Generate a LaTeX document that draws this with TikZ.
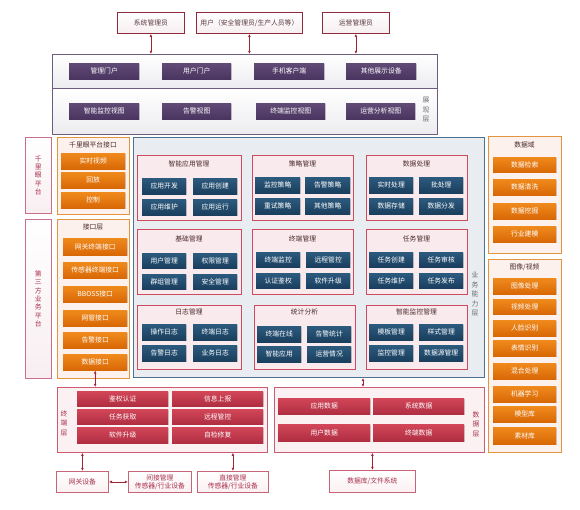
\documentclass[tikz,border=0pt]{standalone}
\usepackage{fontspec}
\setmainfont{Noto Sans CJK SC}
\usetikzlibrary{shadows,arrows.meta}
\definecolor{usrb}{HTML}{8E2A3C}
\definecolor{usrf}{HTML}{F6EEF0}
\definecolor{usrt}{HTML}{5A3A40}
\definecolor{presb}{HTML}{6E5C80}
\definecolor{presf}{HTML}{ECECF0}
\definecolor{purT}{HTML}{614B76}
\definecolor{purB}{HTML}{4A3560}
\definecolor{sideb}{HTML}{C87088}
\definecolor{sidef}{HTML}{F8EEF1}
\definecolor{sidet}{HTML}{A8304C}
\definecolor{orb}{HTML}{E49440}
\definecolor{orf}{HTML}{FCF1EC}
\definecolor{orT}{HTML}{F08A1C}
\definecolor{orB}{HTML}{D86806}
\definecolor{bizb}{HTML}{4C7290}
\definecolor{bizf}{HTML}{E9EDF1}
\definecolor{grpb}{HTML}{CC4C5E}
\definecolor{grpf}{HTML}{F9EAEE}
\definecolor{navT}{HTML}{2C5A7E}
\definecolor{navB}{HTML}{1A3E5E}
\definecolor{rpb}{HTML}{CC5C6E}
\definecolor{rpf}{HTML}{FBF1F3}
\definecolor{redT}{HTML}{D24658}
\definecolor{redB}{HTML}{B02E42}
\definecolor{devb}{HTML}{C86478}
\definecolor{devf}{HTML}{FBF0F2}
\definecolor{devt}{HTML}{A8304C}
\definecolor{arrc}{HTML}{9E2436}
\definecolor{lblc}{HTML}{6A6A72}
\definecolor{ttlc}{HTML}{4A2A2A}
\newcommand\bx[7]{\node[#2, anchor=north west, inner sep=0pt, minimum width={(#5-#3)*1pt}, minimum height={(#6-#4)*1pt}] (#1) at (#3,#4) {#7};}
\begin{document}
\begin{tikzpicture}[x=1pt,y=-1pt,font=\fontsize{6.8pt}{8pt}\selectfont,
  shd/.style={drop shadow={shadow xshift=0.7pt,shadow yshift=-0.7pt,opacity=0.35}},
  usr/.style={draw=usrb,line width=0.8pt,top color=white,bottom color=usrf,text=usrt},
  prespanel/.style={draw=presb,line width=0.9pt,top color=white,bottom color=presf},
  pbtn/.style={top color=purT,bottom color=purB,text=white,shd},
  side/.style={draw=sideb,line width=0.7pt,top color=white,bottom color=sidef,text=sidet,align=center,font=\fontsize{6.8pt}{8.4pt}\selectfont},
  opanel/.style={draw=orb,line width=0.7pt,fill=orf},
  obtn/.style={top color=orT,bottom color=orB,text=white,shd},
  biz/.style={draw=bizb,line width=0.9pt,fill=bizf},
  grp/.style={draw=grpb,line width=0.7pt,fill=grpf},
  nbtn/.style={top color=navT,bottom color=navB,text=white,shd},
  rpanel/.style={draw=rpb,line width=0.7pt,fill=rpf},
  rbtn/.style={top color=redT,bottom color=redB,text=white,shd},
  dev/.style={draw=devb,line width=0.8pt,top color=white,bottom color=devf,text=devt,align=center,font=\fontsize{6.8pt}{7.8pt}\selectfont},
  arr/.style={{Latex[length=3.2pt,width=2.8pt]}-{Latex[length=3.2pt,width=2.8pt]},draw=arrc,line width=0.8pt},
  lbl/.style={text=lblc,align=center,inner sep=0pt,font=\fontsize{6.8pt}{9.5pt}\selectfont},
  ttl/.style={text=ttlc,inner sep=0pt},
]
\useasboundingbox (0,0) rectangle (580,510);
% top users
\bx{sysadm}{usr}{117}{12}{184}{33}{系统管理员}
\bx{user}{usr}{196}{12}{302}{33}{用户（安全管理员/生产人员等）}
\bx{opadm}{usr}{322}{12}{389}{33}{运营管理员}
% presentation layer
\bx{pres1}{prespanel}{52}{54}{437}{88}{}
\bx{pres2}{prespanel}{52}{88}{437}{134}{}
\bx{p1}{pbtn}{69}{63}{139}{79}{管理门户}
\bx{p2}{pbtn}{162}{63}{231}{79}{用户门户}
\bx{p3}{pbtn}{254}{63}{324}{79}{手机客户端}
\bx{p4}{pbtn}{346}{63}{416}{79}{其他展示设备}
\bx{p5}{pbtn}{69}{103}{139}{119}{智能监控视图}
\bx{p6}{pbtn}{162}{103}{231}{119}{告警视图}
\bx{p7}{pbtn}{256}{103}{325}{119}{终端监控视图}
\bx{p8}{pbtn}{346}{103}{415}{119}{运营分析视图}
\node[lbl] (lpres) at (426,110) {展\\现\\层};
\draw[arr] (sysadm.south) -- (sysadm.south |- pres1.north);
\draw[arr] (user.south) -- (user.south |- pres1.north);
\draw[arr] (opadm.south) -- (opadm.south |- pres1.north);
% left side
\bx{qly}{side}{25}{137}{51}{213}{千\\里\\眼\\平\\台}
\bx{dsf}{side}{25}{219}{51}{378}{第\\三\\方\\业\\务\\平\\台}
\bx{qlyif}{opanel}{57}{137}{129}{214}{}
\node[ttl] (tqly) at (93,145) {千里眼平台接口};
\bx{q1}{obtn}{61}{153}{125}{169}{实时视频}
\bx{q2}{obtn}{61}{172}{125}{188}{回放}
\bx{q3}{obtn}{61}{192}{125}{208}{控制}
\bx{ifl}{opanel}{57}{219}{129}{378}{}
\node[ttl] (tifl) at (93,227) {接口层};
\bx{i1}{obtn}{63}{238}{127}{255}{网关终端接口}
\bx{i2}{obtn}{63}{262}{127}{278}{传感器终端接口}
\bx{i3}{obtn}{63}{286}{127}{302}{BBOSS接口}
\bx{i4}{obtn}{63}{310}{127}{326}{网管接口}
\bx{i5}{obtn}{63}{332}{127}{348}{告警接口}
\bx{i6}{obtn}{63}{354}{127}{370}{数据接口}
% business layer
\bx{biz}{biz}{133}{137}{484}{377}{}
\node[lbl] (lbiz) at (475,294) {业\\务\\能\\力\\层};
% row 1
\bx{g1}{grp}{137}{155}{241}{220}{}
\node[ttl] (tg1) at (189,164) {智能应用管理};
\bx{b11}{nbtn}{142}{178}{186}{194}{应用开发}
\bx{b12}{nbtn}{193}{178}{237}{194}{应用创建}
\bx{b13}{nbtn}{142}{199}{186}{215}{应用维护}
\bx{b14}{nbtn}{193}{199}{237}{215}{应用运行}
\bx{g2}{grp}{252}{155}{353}{220}{}
\node[ttl] (tg2) at (302.5,164) {策略管理};
\bx{b21}{nbtn}{255}{177}{300}{193}{监控策略}
\bx{b22}{nbtn}{305}{177}{350}{193}{告警策略}
\bx{b23}{nbtn}{255}{198}{300}{214}{重试策略}
\bx{b24}{nbtn}{305}{198}{350}{214}{其他策略}
\bx{g3}{grp}{366}{155}{467}{220}{}
\node[ttl] (tg3) at (416.5,164) {数据处理};
\bx{b31}{nbtn}{369}{177}{413}{193}{实时处理}
\bx{b32}{nbtn}{419}{177}{463}{193}{批处理}
\bx{b33}{nbtn}{369}{198}{413}{214}{数据存储}
\bx{b34}{nbtn}{419}{198}{463}{214}{数据分发}
% row 2
\bx{g4}{grp}{137}{229}{241}{294}{}
\node[ttl] (tg4) at (189,239) {基础管理};
\bx{b41}{nbtn}{142}{253}{186}{268}{用户管理}
\bx{b42}{nbtn}{193}{253}{237}{268}{权限管理}
\bx{b43}{nbtn}{142}{274}{186}{289}{群组管理}
\bx{b44}{nbtn}{193}{274}{237}{289}{安全管理}
\bx{g5}{grp}{252}{229}{353}{294}{}
\node[ttl] (tg5) at (302.5,239) {终端管理};
\bx{b51}{nbtn}{256}{252}{300}{267}{终端监控}
\bx{b52}{nbtn}{306}{252}{350}{267}{远程管控}
\bx{b53}{nbtn}{256}{273}{300}{288}{认证鉴权}
\bx{b54}{nbtn}{306}{273}{350}{288}{软件升级}
\bx{g6}{grp}{366}{229}{467}{294}{}
\node[ttl] (tg6) at (416.5,239) {任务管理};
\bx{b61}{nbtn}{369}{252}{413}{267}{任务创建}
\bx{b62}{nbtn}{419}{252}{463}{267}{任务审核}
\bx{b63}{nbtn}{369}{273}{413}{288}{任务维护}
\bx{b64}{nbtn}{419}{273}{463}{288}{任务发布}
% row 3
\bx{g7}{grp}{137}{305}{241}{369}{}
\node[ttl] (tg7) at (189,312) {日志管理};
\bx{b71}{nbtn}{142}{324}{186}{340}{操作日志}
\bx{b72}{nbtn}{193}{324}{237}{340}{终端日志}
\bx{b73}{nbtn}{142}{345}{186}{361}{告警日志}
\bx{b74}{nbtn}{193}{345}{237}{361}{业务日志}
\bx{g8}{grp}{254}{305}{355}{369}{}
\node[ttl] (tg8) at (304.5,312) {统计分析};
\bx{b81}{nbtn}{257}{326}{301}{342}{终端在线}
\bx{b82}{nbtn}{307}{326}{351}{342}{告警统计}
\bx{b83}{nbtn}{257}{346}{301}{362}{智能应用}
\bx{b84}{nbtn}{307}{346}{351}{362}{运营情况}
\bx{g9}{grp}{366}{305}{467}{369}{}
\node[ttl] (tg9) at (416.5,312) {智能监控管理};
\bx{b91}{nbtn}{369}{324}{413}{340}{模板管理}
\bx{b92}{nbtn}{419}{324}{463}{340}{样式管理}
\bx{b93}{nbtn}{369}{345}{413}{361}{监控管理}
\bx{b94}{nbtn}{419}{345}{463}{361}{数据源管理}
% right side
\bx{sjy}{opanel}{488}{136}{561}{253}{}
\node[ttl] (tsjy) at (524.5,145) {数据域};
\bx{r1}{obtn}{493}{157}{556}{172}{数据检索}
\bx{r2}{obtn}{493}{179}{556}{195}{数据清洗}
\bx{r3}{obtn}{493}{203}{556}{219}{数据挖掘}
\bx{r4}{obtn}{493}{226}{556}{242}{行业建模}
\bx{txsp}{opanel}{488}{259}{561}{452}{}
\node[ttl] (ttx) at (524.5,267) {图像/视频};
\bx{v1}{obtn}{493}{278}{556}{294}{图像处理}
\bx{v2}{obtn}{493}{299}{556}{314}{视频处理}
\bx{v3}{obtn}{493}{320}{556}{336}{人脸识别}
\bx{v4}{obtn}{493}{340}{556}{356}{表情识别}
\bx{v5}{obtn}{493}{363}{556}{379}{混合处理}
\bx{v6}{obtn}{493}{386}{556}{402}{机器学习}
\bx{v7}{obtn}{493}{406}{556}{422}{模型库}
\bx{v8}{obtn}{493}{427}{556}{444}{素材库}
% terminal layer
\bx{term}{rpanel}{57}{387}{267}{452}{}
\node[lbl,text=sidet] (lterm) at (64,423) {终\\端\\层};
\bx{t1}{rbtn}{77}{391}{168}{406}{鉴权认证}
\bx{t2}{rbtn}{172}{391}{263}{406}{信息上报}
\bx{t3}{rbtn}{77}{409}{168}{424}{任务获取}
\bx{t4}{rbtn}{172}{409}{263}{424}{远程管控}
\bx{t5}{rbtn}{77}{427}{168}{443}{软件升级}
\bx{t6}{rbtn}{172}{427}{263}{443}{自检修复}
% data layer
\bx{data}{rpanel}{274}{387}{484}{452}{}
\node[lbl,text=sidet] (ldata) at (476,424) {数\\据\\层};
\bx{d1}{rbtn}{278}{398}{370}{414}{应用数据}
\bx{d2}{rbtn}{373}{398}{464}{414}{系统数据}
\bx{d3}{rbtn}{278}{424}{370}{441}{用户数据}
\bx{d4}{rbtn}{373}{424}{464}{441}{终端数据}
% devices
\bx{gw}{dev}{56}{471}{108}{492}{网关设备}
\bx{ind}{dev}{128}{471}{191}{492}{间接管理\\传感器/行业设备}
\bx{dir}{dev}{197}{471}{268}{492}{直接管理\\传感器/行业设备}
\bx{db}{dev}{329}{470}{415}{492}{数据库/文件系统}
% connectors
\coordinate (bx) at (363,0);
\draw[arr] (i6.south) -- (i6.south |- term.north);
\draw[arr] (biz.south -| bx) -- (data.north -| bx);
\draw[arr] (gw.north |- term.south) -- (gw.north);
\draw[arr] (dir.north |- term.south) -- (dir.north);
\draw[arr] (gw.east) -- (ind.west);
\draw[arr] (db.north |- data.south) -- (db.north);
\end{tikzpicture}
\end{document}
